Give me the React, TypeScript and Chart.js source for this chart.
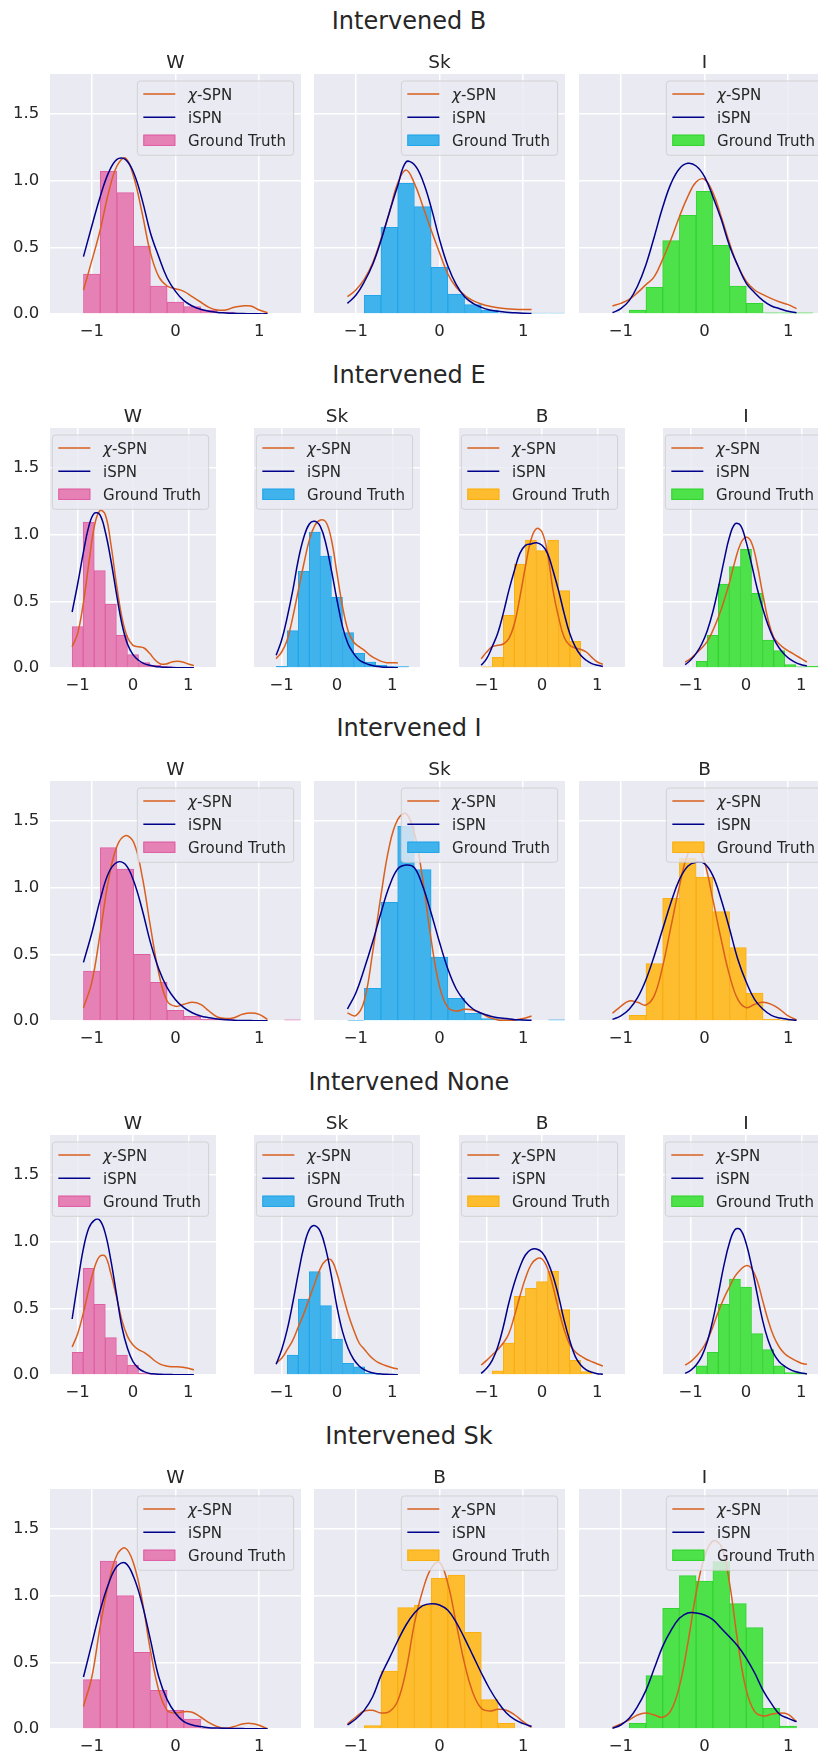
import React, { useEffect, useRef } from 'react';
import Chart from 'chart.js/auto';

// ---------- shared axes data ----------
const xGrid = [-1.1, -1.0, -0.9, -0.8, -0.7, -0.6, -0.5, -0.4, -0.3, -0.2, -0.1, 0.0, 0.1, 0.2, 0.3, 0.4, 0.5, 0.6, 0.7, 0.8, 0.9, 1.0, 1.1];
const binCenters = [-1.0, -0.8, -0.6, -0.4, -0.2, 0.0, 0.2, 0.4, 0.6, 0.8, 1.0, 1.2, 1.4];
const xTicks = [-1, 0, 1];
const yTicks = [0, 0.5, 1.0, 1.5];
const seriesLabels = ['χ-SPN', 'iSPN', 'Ground Truth'];
const rowTitles = ['Intervened B', 'Intervened E', 'Intervened I', 'Intervened None', 'Intervened Sk'];

// ---------- Intervened B ----------
const B_W_gt = [0.30, 1.07, 0.91, 0.51, 0.21, 0.09, 0.055, 0.03, 0.015, 0.005, 0.004, null, null];
const B_W_chi = [0.18, 0.40, 0.63, 0.91, 1.11, 1.17, 1.03, 0.76, 0.46, 0.28, 0.21, 0.19, 0.17, 0.13, 0.09, 0.05, 0.03, 0.03, 0.05, 0.06, 0.06, 0.03, 0.01];
const B_W_ispn = [0.43, 0.66, 0.88, 1.06, 1.16, 1.16, 1.06, 0.86, 0.61, 0.43, 0.27, 0.17, 0.10, 0.06, 0.035, 0.02, 0.012, 0.008, 0.005, 0.003, 0.002, 0.001, 0.001];
const B_Sk_gt = [null, 0.14, 0.65, 0.98, 0.805, 0.35, 0.15, 0.07, 0.03, 0.006, 0.006, 0.006, 0.006];
const B_Sk_chi = [0.13, 0.18, 0.26, 0.38, 0.56, 0.76, 0.98, 1.08, 0.98, 0.81, 0.63, 0.46, 0.30, 0.20, 0.14, 0.10, 0.075, 0.058, 0.047, 0.04, 0.036, 0.034, 0.033];
const B_Sk_ispn = [0.08, 0.14, 0.24, 0.37, 0.55, 0.76, 0.96, 1.14, 1.12, 1.0, 0.80, 0.56, 0.36, 0.22, 0.13, 0.08, 0.05, 0.03, 0.02, 0.013, 0.009, 0.006, 0.004];
const B_I_gt = [null, 0.03, 0.20, 0.55, 0.74, 0.92, 0.515, 0.21, 0.08, 0.008, 0.008, 0.008, null];
const B_I_chi = [0.06, 0.08, 0.11, 0.16, 0.22, 0.28, 0.41, 0.56, 0.73, 0.88, 0.99, 1.01, 0.91, 0.73, 0.53, 0.36, 0.245, 0.18, 0.145, 0.115, 0.09, 0.07, 0.04];
const B_I_ispn = [0.01, 0.04, 0.10, 0.21, 0.37, 0.58, 0.80, 0.98, 1.09, 1.13, 1.11, 1.03, 0.88, 0.71, 0.51, 0.36, 0.23, 0.16, 0.10, 0.06, 0.04, 0.02, 0.01];

// ---------- Intervened E ----------
const E_W_gt = [0.31, 1.095, 0.73, 0.48, 0.245, 0.10, 0.04, 0.02, 0.01, 0.005, 0.003, null, null];
const E_W_chi = [0.16, 0.26, 0.48, 0.78, 1.06, 1.18, 1.15, 0.93, 0.63, 0.38, 0.23, 0.17, 0.16, 0.15, 0.11, 0.06, 0.03, 0.03, 0.045, 0.05, 0.045, 0.03, 0.018];
const E_W_ispn = [0.42, 0.63, 0.86, 1.06, 1.16, 1.15, 1.02, 0.81, 0.56, 0.33, 0.18, 0.10, 0.058, 0.033, 0.02, 0.012, 0.008, 0.005, 0.003, 0.002, 0.002, 0.002, 0.002];
const E_Sk_gt = [0.012, 0.28, 0.725, 1.02, 0.84, 0.53, 0.265, 0.11, 0.045, 0.02, 0.01, 0.01, null];
const E_Sk_chi = [0.07, 0.12, 0.21, 0.38, 0.58, 0.78, 0.96, 1.07, 1.11, 1.095, 0.96, 0.71, 0.46, 0.28, 0.195, 0.16, 0.13, 0.095, 0.07, 0.05, 0.04, 0.04, 0.038];
const E_Sk_ispn = [0.095, 0.21, 0.38, 0.58, 0.81, 0.98, 1.08, 1.10, 1.06, 0.93, 0.73, 0.51, 0.31, 0.18, 0.11, 0.06, 0.038, 0.022, 0.013, 0.008, 0.005, 0.003, 0.002];
const E_B_gt = [0.008, 0.08, 0.395, 0.78, 0.96, 0.88, 0.96, 0.58, 0.20, null, null, null, null];
const E_B_chi = [0.07, 0.12, 0.16, 0.17, 0.18, 0.22, 0.33, 0.53, 0.76, 0.96, 1.045, 1.02, 0.86, 0.58, 0.38, 0.23, 0.17, 0.15, 0.14, 0.12, 0.08, 0.045, 0.028];
const E_B_ispn = [0.02, 0.07, 0.16, 0.26, 0.41, 0.58, 0.73, 0.86, 0.92, 0.93, 0.94, 0.92, 0.86, 0.73, 0.58, 0.41, 0.26, 0.16, 0.095, 0.058, 0.033, 0.02, 0.012];
const E_I_gt = [null, 0.05, 0.245, 0.63, 0.76, 0.89, 0.56, 0.21, 0.13, 0.025, 0.008, 0.012, null];
const E_I_chi = [0.045, 0.07, 0.11, 0.15, 0.20, 0.28, 0.38, 0.50, 0.64, 0.80, 0.93, 0.98, 0.94, 0.78, 0.56, 0.36, 0.23, 0.18, 0.145, 0.12, 0.095, 0.07, 0.045];
const E_I_ispn = [0.025, 0.06, 0.11, 0.18, 0.28, 0.42, 0.60, 0.80, 0.98, 1.08, 1.07, 0.95, 0.78, 0.60, 0.45, 0.32, 0.22, 0.15, 0.10, 0.065, 0.04, 0.025, 0.015];

// ---------- Intervened I ----------
const I_W_gt = [0.375, 1.30, 1.14, 0.50, 0.29, 0.08, 0.035, 0.012, 0.01, 0.005, 0.005, null, 0.008];
const I_W_chi = [0.10, 0.29, 0.66, 1.06, 1.31, 1.39, 1.34, 1.09, 0.71, 0.36, 0.15, 0.11, 0.125, 0.14, 0.125, 0.075, 0.03, 0.018, 0.025, 0.05, 0.06, 0.05, 0.012];
const I_W_ispn = [0.44, 0.66, 0.91, 1.11, 1.19, 1.175, 1.05, 0.84, 0.59, 0.39, 0.25, 0.16, 0.10, 0.062, 0.038, 0.025, 0.015, 0.01, 0.006, 0.004, 0.003, 0.002, 0.002];
const I_Sk_gt = [0.005, 0.245, 0.89, 1.46, 1.135, 0.48, 0.17, 0.058, 0.018, 0.008, 0.005, null, 0.008];
const I_Sk_chi = [0.06, 0.04, 0.15, 0.51, 0.94, 1.31, 1.51, 1.555, 1.41, 1.06, 0.61, 0.26, 0.10, 0.075, 0.088, 0.083, 0.058, 0.025, 0.008, 0.005, 0.008, 0.018, 0.038];
const I_Sk_ispn = [0.09, 0.21, 0.39, 0.59, 0.81, 1.01, 1.14, 1.17, 1.15, 1.01, 0.81, 0.59, 0.39, 0.24, 0.15, 0.09, 0.058, 0.038, 0.025, 0.018, 0.01, 0.008, 0.005];
const I_B_gt = [null, 0.042, 0.43, 0.92, 1.22, 1.08, 0.82, 0.55, 0.21, 0.012, 0.005, null, null];
const I_B_chi = [0.058, 0.11, 0.15, 0.14, 0.12, 0.19, 0.41, 0.71, 1.01, 1.25, 1.32, 1.19, 0.91, 0.61, 0.34, 0.16, 0.10, 0.125, 0.14, 0.125, 0.088, 0.038, 0.008];
const I_B_ispn = [0.012, 0.038, 0.088, 0.175, 0.31, 0.49, 0.69, 0.89, 1.06, 1.16, 1.19, 1.18, 1.09, 0.91, 0.69, 0.46, 0.29, 0.16, 0.088, 0.042, 0.022, 0.012, 0.005];

// ---------- Intervened None ----------
const N_W_gt = [0.17, 0.80, 0.53, 0.28, 0.15, 0.075, 0.012, 0.005, null, null, null, null, null];
const N_W_chi = [0.21, 0.31, 0.46, 0.64, 0.80, 0.89, 0.89, 0.76, 0.59, 0.41, 0.29, 0.225, 0.19, 0.17, 0.14, 0.105, 0.08, 0.068, 0.062, 0.062, 0.058, 0.05, 0.038];
const N_W_ispn = [0.42, 0.69, 0.94, 1.10, 1.16, 1.16, 1.06, 0.86, 0.61, 0.36, 0.20, 0.10, 0.05, 0.025, 0.012, 0.008, 0.005, 0.004, 0.003, 0.002, 0.002, 0.002, 0.002];
const N_Sk_gt = [null, 0.15, 0.57, 0.775, 0.52, 0.27, 0.088, 0.062, 0.012, 0.005, null, null, null];
const N_Sk_chi = [0.088, 0.125, 0.19, 0.26, 0.36, 0.46, 0.575, 0.69, 0.80, 0.86, 0.86, 0.76, 0.61, 0.46, 0.34, 0.24, 0.19, 0.14, 0.105, 0.083, 0.068, 0.055, 0.045];
const N_Sk_ispn = [0.08, 0.19, 0.34, 0.54, 0.76, 0.96, 1.09, 1.12, 1.075, 0.94, 0.74, 0.51, 0.325, 0.20, 0.118, 0.068, 0.038, 0.02, 0.012, 0.008, 0.005, 0.003, 0.002];
const N_B_gt = [null, 0.032, 0.24, 0.59, 0.65, 0.70, 0.78, 0.49, 0.11, 0.025, null, null, null];
const N_B_chi = [0.075, 0.11, 0.15, 0.19, 0.24, 0.31, 0.44, 0.59, 0.725, 0.825, 0.87, 0.87, 0.80, 0.66, 0.49, 0.34, 0.23, 0.175, 0.143, 0.118, 0.10, 0.083, 0.068];
const N_B_ispn = [0.012, 0.05, 0.11, 0.21, 0.36, 0.54, 0.69, 0.81, 0.90, 0.94, 0.945, 0.92, 0.85, 0.74, 0.59, 0.41, 0.26, 0.14, 0.075, 0.038, 0.02, 0.01, 0.005];
const N_I_gt = [null, 0.068, 0.17, 0.53, 0.72, 0.66, 0.31, 0.19, 0.068, 0.018, 0.012, null, null];
const N_I_chi = [0.075, 0.10, 0.14, 0.19, 0.26, 0.36, 0.475, 0.575, 0.66, 0.74, 0.79, 0.82, 0.80, 0.71, 0.56, 0.41, 0.29, 0.21, 0.16, 0.13, 0.108, 0.088, 0.08];
const N_I_ispn = [0.012, 0.035, 0.075, 0.14, 0.25, 0.41, 0.61, 0.82, 0.99, 1.09, 1.09, 0.99, 0.82, 0.61, 0.41, 0.26, 0.16, 0.10, 0.065, 0.04, 0.025, 0.015, 0.008];

// ---------- Intervened Sk ----------
const S_W_gt = [0.37, 1.26, 1.00, 0.575, 0.29, 0.14, 0.075, 0.005, null, null, null, null, null];
const S_W_chi = [0.17, 0.39, 0.77, 1.09, 1.305, 1.357, 1.24, 0.97, 0.59, 0.29, 0.14, 0.12, 0.13, 0.125, 0.09, 0.048, 0.018, 0.005, 0.018, 0.038, 0.042, 0.028, 0.0];
const S_W_ispn = [0.39, 0.64, 0.89, 1.09, 1.22, 1.245, 1.14, 0.94, 0.67, 0.39, 0.22, 0.118, 0.055, 0.03, 0.018, 0.01, 0.007, 0.005, 0.004, 0.003, 0.002, 0.002, 0.001];
const S_B_gt = [null, 0.025, 0.435, 0.91, 0.93, 1.13, 1.155, 0.725, 0.22, 0.042, null, null, null];
const S_B_chi = [0.038, 0.09, 0.135, 0.14, 0.12, 0.13, 0.21, 0.44, 0.79, 1.04, 1.205, 1.25, 1.09, 0.79, 0.49, 0.27, 0.155, 0.135, 0.148, 0.14, 0.105, 0.055, 0.012];
const S_B_ispn = [0.03, 0.075, 0.14, 0.24, 0.40, 0.53, 0.66, 0.78, 0.87, 0.925, 0.94, 0.93, 0.89, 0.80, 0.68, 0.55, 0.42, 0.30, 0.20, 0.12, 0.07, 0.04, 0.02];
const S_I_gt = [null, 0.042, 0.40, 0.905, 1.15, 1.11, 1.255, 0.94, 0.76, 0.155, 0.022, null, null];
const S_I_chi = [0.012, 0.038, 0.068, 0.105, 0.12, 0.105, 0.088, 0.14, 0.32, 0.64, 1.02, 1.29, 1.41, 1.37, 1.09, 0.64, 0.29, 0.13, 0.098, 0.11, 0.12, 0.11, 0.055];
const S_I_ispn = [0.005, 0.03, 0.08, 0.17, 0.29, 0.455, 0.62, 0.74, 0.83, 0.87, 0.87, 0.855, 0.82, 0.755, 0.69, 0.62, 0.53, 0.42, 0.29, 0.19, 0.11, 0.08, 0.055];

// ---------- styles ----------
const FONT = '"DejaVu Sans", Verdana, sans-serif';
const TEXT = '#262626';
const CHI_COLOR = '#D95F1E';
const ISPN_COLOR = '#00008B';
const AX_BG = '#EAEAF2';
const VAR_STYLE: Record<string, { fill: string; edge: string }> = {
  W: { fill: '#E681B6', edge: '#DF5FA3' },
  Sk: { fill: '#40B3EC', edge: '#22A5E8' },
  B: { fill: '#FEBD2F', edge: '#F8AF10' },
  I: { fill: '#4DE14A', edge: '#33D330' },
};

type PanelDef = { name: string; gt: (number | null)[]; chi: number[]; ispn: number[] };

const ROWS: { title: string; panels: PanelDef[] }[] = [
  { title: rowTitles[0], panels: [
    { name: 'W', gt: B_W_gt, chi: B_W_chi, ispn: B_W_ispn },
    { name: 'Sk', gt: B_Sk_gt, chi: B_Sk_chi, ispn: B_Sk_ispn },
    { name: 'I', gt: B_I_gt, chi: B_I_chi, ispn: B_I_ispn },
  ] },
  { title: rowTitles[1], panels: [
    { name: 'W', gt: E_W_gt, chi: E_W_chi, ispn: E_W_ispn },
    { name: 'Sk', gt: E_Sk_gt, chi: E_Sk_chi, ispn: E_Sk_ispn },
    { name: 'B', gt: E_B_gt, chi: E_B_chi, ispn: E_B_ispn },
    { name: 'I', gt: E_I_gt, chi: E_I_chi, ispn: E_I_ispn },
  ] },
  { title: rowTitles[2], panels: [
    { name: 'W', gt: I_W_gt, chi: I_W_chi, ispn: I_W_ispn },
    { name: 'Sk', gt: I_Sk_gt, chi: I_Sk_chi, ispn: I_Sk_ispn },
    { name: 'B', gt: I_B_gt, chi: I_B_chi, ispn: I_B_ispn },
  ] },
  { title: rowTitles[3], panels: [
    { name: 'W', gt: N_W_gt, chi: N_W_chi, ispn: N_W_ispn },
    { name: 'Sk', gt: N_Sk_gt, chi: N_Sk_chi, ispn: N_Sk_ispn },
    { name: 'B', gt: N_B_gt, chi: N_B_chi, ispn: N_B_ispn },
    { name: 'I', gt: N_I_gt, chi: N_I_chi, ispn: N_I_ispn },
  ] },
  { title: rowTitles[4], panels: [
    { name: 'W', gt: S_W_gt, chi: S_W_chi, ispn: S_W_ispn },
    { name: 'B', gt: S_B_gt, chi: S_B_chi, ispn: S_B_ispn },
    { name: 'I', gt: S_I_gt, chi: S_I_chi, ispn: S_I_ispn },
  ] },
];

// ---------- layout ----------
const ROW_TOPS = [74, 428, 781, 1135, 1489];
const PLOT_H = 240;
const LAYOUT3 = { lefts: [50, 314, 579], width: 251 };
const LAYOUT4 = { lefts: [50, 254, 459, 663], width: 166 };
const PAD_L = 60, PAD_T = 34, PAD_R = 10, PAD_B = 40;

const bgPlugin = {
  id: 'axbg',
  beforeDraw(chart: any) {
    const { ctx, chartArea: a } = chart;
    ctx.save();
    ctx.fillStyle = AX_BG;
    ctx.fillRect(a.left, a.top, a.right - a.left, a.bottom - a.top);
    ctx.restore();
  },
};

function makeOverlay(name: string) {
  return {
    id: 'overlay',
    afterDraw(chart: any) {
      const { ctx, chartArea: a } = chart;
      ctx.save();
      // subplot title
      ctx.fillStyle = TEXT;
      ctx.font = `18.5px ${FONT}`;
      ctx.textAlign = 'center';
      ctx.textBaseline = 'alphabetic';
      ctx.fillText(name, (a.left + a.right) / 2, a.top - 6.3);

      // legend
      ctx.font = `15px ${FONT}`;
      const tw = ctx.measureText(seriesLabels[2]).width;
      const bw = 6 + 32 + 12.7 + tw + 7.6;
      const bh = 74.3;
      const bx = a.right - 7.4 - bw;
      const by = a.top + 7;
      ctx.beginPath();
      ctx.roundRect(bx, by, bw, bh, 3);
      ctx.fillStyle = 'rgba(234,234,242,0.8)';
      ctx.fill();
      ctx.strokeStyle = 'rgba(204,204,204,0.8)';
      ctx.lineWidth = 1;
      ctx.stroke();

      const rowsY = [by + 13, by + 36.3, by + 59.3];
      const hx1 = bx + 6, hx2 = bx + 38, tx = bx + 50.7;
      ctx.lineWidth = 1.5;
      ctx.strokeStyle = CHI_COLOR;
      ctx.beginPath(); ctx.moveTo(hx1, rowsY[0]); ctx.lineTo(hx2, rowsY[0]); ctx.stroke();
      ctx.strokeStyle = ISPN_COLOR;
      ctx.beginPath(); ctx.moveTo(hx1, rowsY[1]); ctx.lineTo(hx2, rowsY[1]); ctx.stroke();
      const st = VAR_STYLE[name];
      ctx.fillStyle = st.fill;
      ctx.fillRect(hx1, rowsY[2] - 5.65, 32, 11.3);
      ctx.strokeStyle = st.edge;
      ctx.lineWidth = 1;
      ctx.strokeRect(hx1 + 0.5, rowsY[2] - 5.15, 31, 10.3);

      ctx.fillStyle = TEXT;
      ctx.textAlign = 'left';
      ctx.textBaseline = 'alphabetic';
      const off = 5.5;
      // χ-SPN with italic chi
      ctx.font = `italic 15px ${FONT}`;
      const chi = seriesLabels[0].charAt(0);
      ctx.fillText(chi, tx, rowsY[0] + off);
      const cw = ctx.measureText(chi).width;
      ctx.font = `15px ${FONT}`;
      ctx.fillText(seriesLabels[0].slice(1), tx + cw, rowsY[0] + off);
      ctx.fillText(seriesLabels[1], tx, rowsY[1] + off);
      ctx.fillText(seriesLabels[2], tx, rowsY[2] + off);
      ctx.restore();
    },
  };
}

function fmtX(v: number) {
  if (v < 0) return '\u2212' + String(Math.abs(v));
  return String(v);
}

function Panel({ panel, left, top, width, showY }: { panel: PanelDef; left: number; top: number; width: number; showY: boolean }) {
  const ref = useRef<HTMLCanvasElement>(null);
  const cw = width + PAD_L + PAD_R;
  const ch = PLOT_H + PAD_T + PAD_B;
  useEffect(() => {
    if (!ref.current) return;
    const st = VAR_STYLE[panel.name];
    const tickFont = { family: FONT, size: 16.5 };
    const chart = new Chart(ref.current, {
      type: 'bar',
      data: {
        datasets: [
          {
            type: 'line',
            label: seriesLabels[1],
            data: xGrid.map((x, i) => ({ x, y: panel.ispn[i] })),
            borderColor: ISPN_COLOR,
            borderWidth: 1.5,
            pointRadius: 0,
            tension: 0.4,
            fill: false,
            order: 0,
          },
          {
            type: 'line',
            label: seriesLabels[0],
            data: xGrid.map((x, i) => ({ x, y: panel.chi[i] })),
            borderColor: CHI_COLOR,
            borderWidth: 1.5,
            pointRadius: 0,
            tension: 0.4,
            fill: false,
            order: 1,
          },
          {
            type: 'bar',
            label: seriesLabels[2],
            data: binCenters.map((x, i) => ({ x, y: panel.gt[i] })),
            backgroundColor: st.fill,
            borderColor: st.edge,
            borderWidth: 1,
            barPercentage: 1,
            categoryPercentage: 1,
            grouped: false,
            order: 2,
          },
        ] as any,
      },
      options: {
        animation: false,
        responsive: false,
        maintainAspectRatio: false,
        events: [],
        layout: { padding: { left: 0, top: PAD_T, right: PAD_R, bottom: 0 } },
        plugins: { legend: { display: false }, tooltip: { enabled: false }, title: { display: false } },
        scales: {
          x: {
            type: 'linear',
            min: -1.5,
            max: 1.5,
            offset: false,
            grid: { color: '#FFFFFF', lineWidth: 1.5, drawTicks: false, offset: false },
            border: { display: false },
            ticks: { padding: 7.8, color: TEXT, font: tickFont, callback: (v: any) => fmtX(Number(v)) },
            afterBuildTicks: (s: any) => { s.ticks = xTicks.map((value) => ({ value })); },
            afterFit: (s: any) => { s.height = PAD_B; s.paddingLeft = 0; s.paddingRight = 0; s.paddingTop = 0; s.paddingBottom = 0; },
          },
          y: {
            type: 'linear',
            min: 0,
            max: 1.8,
            grid: { color: '#FFFFFF', lineWidth: 1.5, drawTicks: false },
            border: { display: false },
            ticks: { display: showY, padding: 10.7, color: TEXT, font: tickFont, callback: (v: any) => Number(v).toFixed(1) },
            afterBuildTicks: (s: any) => { s.ticks = yTicks.map((value) => ({ value })); },
            afterFit: (s: any) => { s.width = PAD_L; s.paddingLeft = 0; s.paddingRight = 0; s.paddingTop = 0; s.paddingBottom = 0; },
          },
        },
      } as any,
      plugins: [bgPlugin, makeOverlay(panel.name)],
    });
    return () => chart.destroy();
  }, []);
  return (
    <canvas
      ref={ref}
      width={cw}
      height={ch}
      style={{ position: 'absolute', left: left - PAD_L, top: top - PAD_T, width: cw, height: ch }}
    />
  );
}

export default function App() {
  return (
    <div style={{ position: 'absolute', left: 0, top: 0, width: 818, height: 1754, overflow: 'hidden', background: '#FFFFFF' }}>
      {ROWS.map((row, r) => {
        const lay = row.panels.length === 3 ? LAYOUT3 : LAYOUT4;
        const top = ROW_TOPS[r];
        return (
          <React.Fragment key={r}>
            <div
              style={{
                position: 'absolute', left: 0, top: top - 44.7 - 20.3, width: 818, textAlign: 'center',
                fontFamily: FONT, fontSize: 24, lineHeight: '24px', color: TEXT, whiteSpace: 'nowrap',
              }}
            >
              {row.title}
            </div>
            {row.panels.map((p, c) => (
              <Panel key={c} panel={p} left={lay.lefts[c]} top={top} width={lay.width} showY={c === 0} />
            ))}
          </React.Fragment>
        );
      })}
    </div>
  );
}
